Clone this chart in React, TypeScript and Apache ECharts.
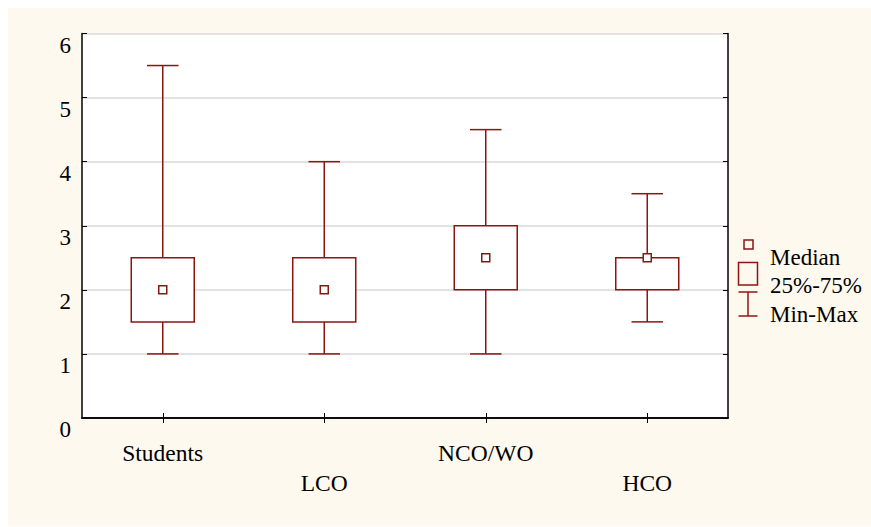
import React, { useEffect, useRef } from "react";
import * as echarts from "echarts";

const categories = ["Students", "LCO", "NCO/WO", "HCO"];
const minValues = [1, 1, 1, 1.5];
const q1Values = [1.5, 1.5, 2, 2];
const medianValues = [2, 2, 2.5, 2.5];
const q3Values = [2.5, 2.5, 3, 2.5];
const maxValues = [5.5, 4, 4.5, 3.5];
const yTicks = [0, 1, 2, 3, 4, 5, 6];
const legendLabels = ["Median", "25%-75%", "Min-Max"];

const RED = "#8E1414";
const FONT = "Liberation Serif";

export default function App() {
  const ref = useRef<HTMLDivElement>(null);
  useEffect(() => {
    if (!ref.current) return;
    const chart = echarts.init(ref.current, null, { renderer: "svg" });
    const data = categories.map((_, i) => [
      i,
      minValues[i],
      q1Values[i],
      medianValues[i],
      q3Values[i],
      maxValues[i],
    ]);
    const lx = 740; // legend x (chart coords)
    chart.setOption({
      animation: false,
      backgroundColor: "#FDF9EF",
      textStyle: { fontFamily: FONT },
      grid: { left: 74, top: 25.5, right: 143, bottom: 108, containLabel: false, show: true, backgroundColor: "#fff", borderWidth: 0 },
      xAxis: [
        {
          type: "category",
          data: categories,
          boundaryGap: true,
          axisLine: { show: true, lineStyle: { color: "#000", width: 1.5 } },
          axisTick: { show: true, inside: true, alignWithLabel: true, length: 5, lineStyle: { color: "#000" } },
          axisLabel: {
            show: true,
            interval: 0,
            margin: 20,
            fontFamily: FONT,
            fontSize: 23.5,
            color: "#000",
            lineHeight: 30,
            verticalAlign: "top",
            formatter: (v: string, i: number) => (i % 2 === 1 ? "\n" + v : v),
          },
          splitLine: { show: false },
        },
        {
          type: "category",
          data: categories,
          position: "top",
          boundaryGap: true,
          axisLine: { show: true, lineStyle: { color: "#000", width: 1.5 } },
          axisTick: { show: true, inside: true, alignWithLabel: true, length: 5, lineStyle: { color: "#000" } },
          axisLabel: { show: false },
          splitLine: { show: false },
        },
      ],
      yAxis: [
        {
          type: "value",
          min: yTicks[0],
          max: yTicks[yTicks.length - 1],
          interval: 1,
          axisLine: { show: true, lineStyle: { color: "#000", width: 1.5 } },
          axisTick: { show: true, inside: true, length: 5, lineStyle: { color: "#000" } },
          axisLabel: { show: true, margin: 11, fontFamily: FONT, fontSize: 23, color: "#000", verticalAlign: "top" },
          splitLine: { show: true, lineStyle: { color: "#D9D9D9", width: 1.5 } },
        },
        {
          type: "value",
          position: "right",
          min: yTicks[0],
          max: yTicks[yTicks.length - 1],
          interval: 1,
          axisLine: { show: true, lineStyle: { color: "#000", width: 1.5 } },
          axisTick: { show: true, inside: true, length: 5, lineStyle: { color: "#000" } },
          axisLabel: { show: false },
          splitLine: { show: false },
        },
      ],
      series: [
        {
          type: "custom",
          xAxisIndex: 0,
          yAxisIndex: 0,
          data,
          encode: { x: 0, y: [1, 2, 3, 4, 5] },
          renderItem: (params: any, api: any) => {
            const x = api.value(0);
            const pMin = api.coord([x, api.value(1)]);
            const pQ1 = api.coord([x, api.value(2)]);
            const pMed = api.coord([x, api.value(3)]);
            const pQ3 = api.coord([x, api.value(4)]);
            const pMax = api.coord([x, api.value(5)]);
            const bw = api.size([1, 0])[0] * 0.39;
            const cw = bw * 0.5;
            const cx = pMed[0];
            const ls = { stroke: RED, lineWidth: 1.5, fill: "none" };
            const children: any[] = [
              { type: "line", shape: { x1: cx, y1: pQ1[1], x2: cx, y2: pMin[1] }, style: ls },
              { type: "line", shape: { x1: cx, y1: pQ3[1], x2: cx, y2: pMax[1] }, style: ls },
              { type: "line", shape: { x1: cx - cw / 2, y1: pMin[1], x2: cx + cw / 2, y2: pMin[1] }, style: ls },
              { type: "line", shape: { x1: cx - cw / 2, y1: pMax[1], x2: cx + cw / 2, y2: pMax[1] }, style: ls },
              {
                type: "rect",
                shape: { x: cx - bw / 2, y: pQ3[1], width: bw, height: pQ1[1] - pQ3[1] },
                style: { stroke: RED, lineWidth: 1.5, fill: "#fff" },
              },
              {
                type: "rect",
                shape: { x: cx - 4, y: pMed[1] - 4, width: 8, height: 8 },
                style: { stroke: RED, lineWidth: 1.5, fill: "#fff" },
              },
            ];
            return { type: "group", children };
          },
        },
      ],
      graphic: [
        { type: "rect", shape: { x: lx - 4, y: 232, width: 9, height: 9 }, style: { stroke: RED, lineWidth: 1.5, fill: "none" } },
        { type: "rect", shape: { x: lx - 9.5, y: 254.5, width: 19, height: 22.5 }, style: { stroke: RED, lineWidth: 1.5, fill: "none" } },
        { type: "line", shape: { x1: lx, y1: 284, x2: lx, y2: 308 }, style: { stroke: RED, lineWidth: 1.5 } },
        { type: "line", shape: { x1: lx - 9.5, y1: 284, x2: lx + 9.5, y2: 284 }, style: { stroke: RED, lineWidth: 1.5 } },
        { type: "line", shape: { x1: lx - 9.5, y1: 308, x2: lx + 9.5, y2: 308 }, style: { stroke: RED, lineWidth: 1.5 } },
        ...legendLabels.map((t, i) => ({
          type: "text",
          x: 762,
          y: 249 + i * 28.5,
          style: { text: t, fontFamily: FONT, fontSize: 23, fill: "#000", verticalAlign: "middle", align: "left" },
        })),
      ],
    });
    return () => chart.dispose();
  }, []);
  return (
    <div style={{ position: "absolute", left: 8, top: 8, width: 863, height: 518 }}>
      <div ref={ref} style={{ width: 863, height: 518 }} />
    </div>
  );
}
